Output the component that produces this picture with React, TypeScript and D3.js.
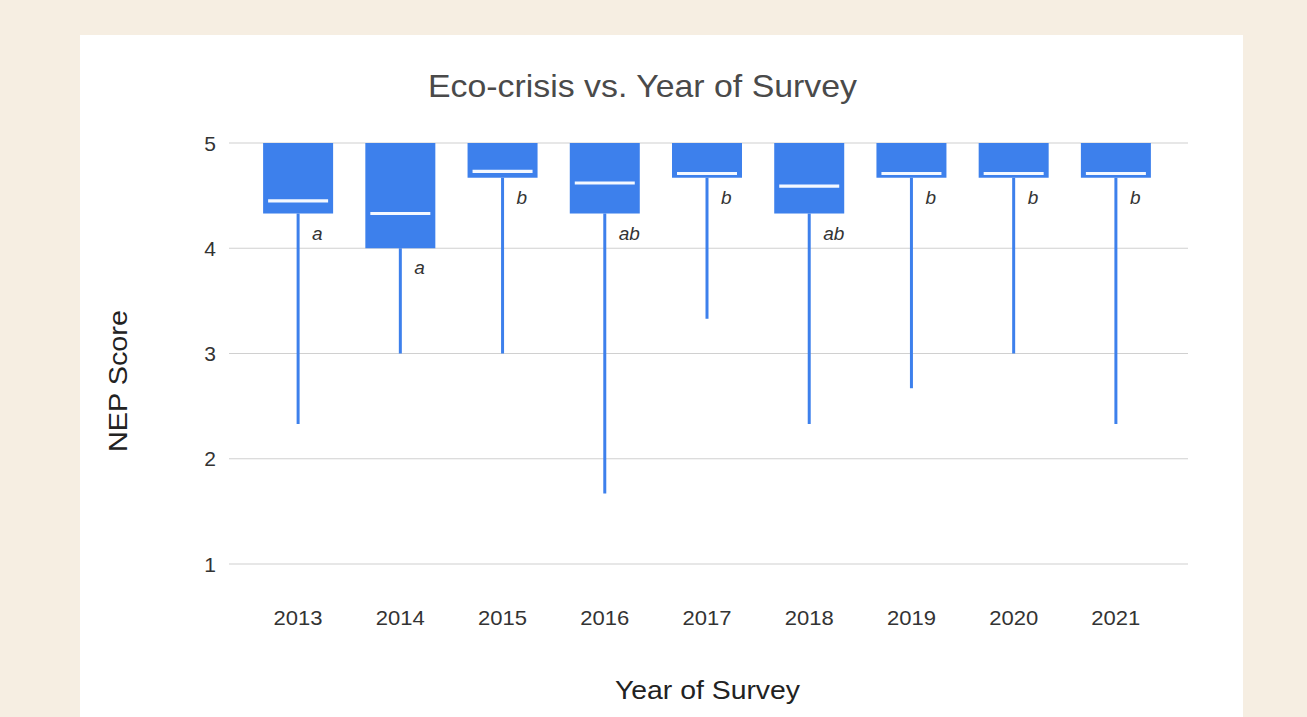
import React from "react";
import * as d3 from "d3";

const years = ["2013", "2014", "2015", "2016", "2017", "2018", "2019", "2020", "2021"];
const q3Values = [5, 5, 5, 5, 5, 5, 5, 5, 5];
const q1Values = [4.33, 4.0, 4.67, 4.33, 4.67, 4.33, 4.67, 4.67, 4.67];
const medianValues = [4.45, 4.33, 4.73, 4.62, 4.71, 4.59, 4.71, 4.71, 4.71];
const minValues = [2.33, 3.0, 3.0, 1.67, 3.33, 2.33, 2.67, 3.0, 2.33];
const groupLetters = ["a", "a", "b", "ab", "b", "ab", "b", "b", "b"];
const yTicks = [1, 2, 3, 4, 5];

const W = 1307;
const H = 717;
const BLUE = "#3d80ec";

export default function App() {
  const x = d3.scaleBand<string>().domain(years).range([247, 1167]).paddingInner(0).paddingOuter(0);
  const y = d3.scaleLinear().domain([1, 5]).range([564, 143]);
  const boxW = 70;
  const font = "'Liberation Sans', Arial, sans-serif";

  return (
    <div style={{ position: "absolute", left: 0, top: 0 }}>
      <svg width={W} height={H} style={{ display: "block" }}>
        <rect x={0} y={0} width={W} height={H} fill="#f6eee2" />
        <rect x={80} y={35} width={1163} height={H - 35} fill="#ffffff" />
        <text
          x={642.5}
          y={97}
          textAnchor="middle"
          fontFamily={font}
          fontSize={32}
          fill="#4a4a4a"
          textLength={429}
          lengthAdjust="spacingAndGlyphs"
        >
          Eco-crisis vs. Year of Survey
        </text>
        {yTicks.map((t) => (
          <g key={t}>
            <line x1={229} x2={1188} y1={y(t)} y2={y(t)} stroke="#d0d0d0" strokeWidth={1.2} />
            <text x={216} y={y(t) + 7.5} textAnchor="end" fontFamily={font} fontSize={21} fill="#333">
              {t}
            </text>
          </g>
        ))}
        {years.map((yr, i) => {
          const cx = (x(yr) as number) + x.bandwidth() / 2;
          const top = y(q3Values[i]);
          const bot = y(q1Values[i]);
          return (
            <g key={yr}>
              <line x1={cx} x2={cx} y1={bot} y2={y(minValues[i])} stroke={BLUE} strokeWidth={3} />
              <rect x={cx - boxW / 2} y={top} width={boxW} height={bot - top} fill={BLUE} />
              <line
                x1={cx - boxW / 2 + 5}
                x2={cx + boxW / 2 - 5}
                y1={y(medianValues[i])}
                y2={y(medianValues[i])}
                stroke="#f4f8ff"
                strokeWidth={3.2}
              />
              <text
                x={cx + 14}
                y={bot + 26}
                fontFamily={font}
                fontStyle="italic"
                fontSize={19}
                fill="#333"
              >
                {groupLetters[i]}
              </text>
              <text
                x={cx}
                y={624.5}
                textAnchor="middle"
                fontFamily={font}
                fontSize={21}
                fill="#333"
                textLength={49}
                lengthAdjust="spacingAndGlyphs"
              >
                {yr}
              </text>
            </g>
          );
        })}
        <text
          transform={`translate(127, 381) rotate(-90)`}
          textAnchor="middle"
          fontFamily={font}
          fontSize={26}
          fill="#222"
          textLength={142}
          lengthAdjust="spacingAndGlyphs"
        >
          NEP Score
        </text>
        <text
          x={707.5}
          y={699}
          textAnchor="middle"
          fontFamily={font}
          fontSize={26}
          fill="#222"
          textLength={185}
          lengthAdjust="spacingAndGlyphs"
        >
          Year of Survey
        </text>
      </svg>
    </div>
  );
}
